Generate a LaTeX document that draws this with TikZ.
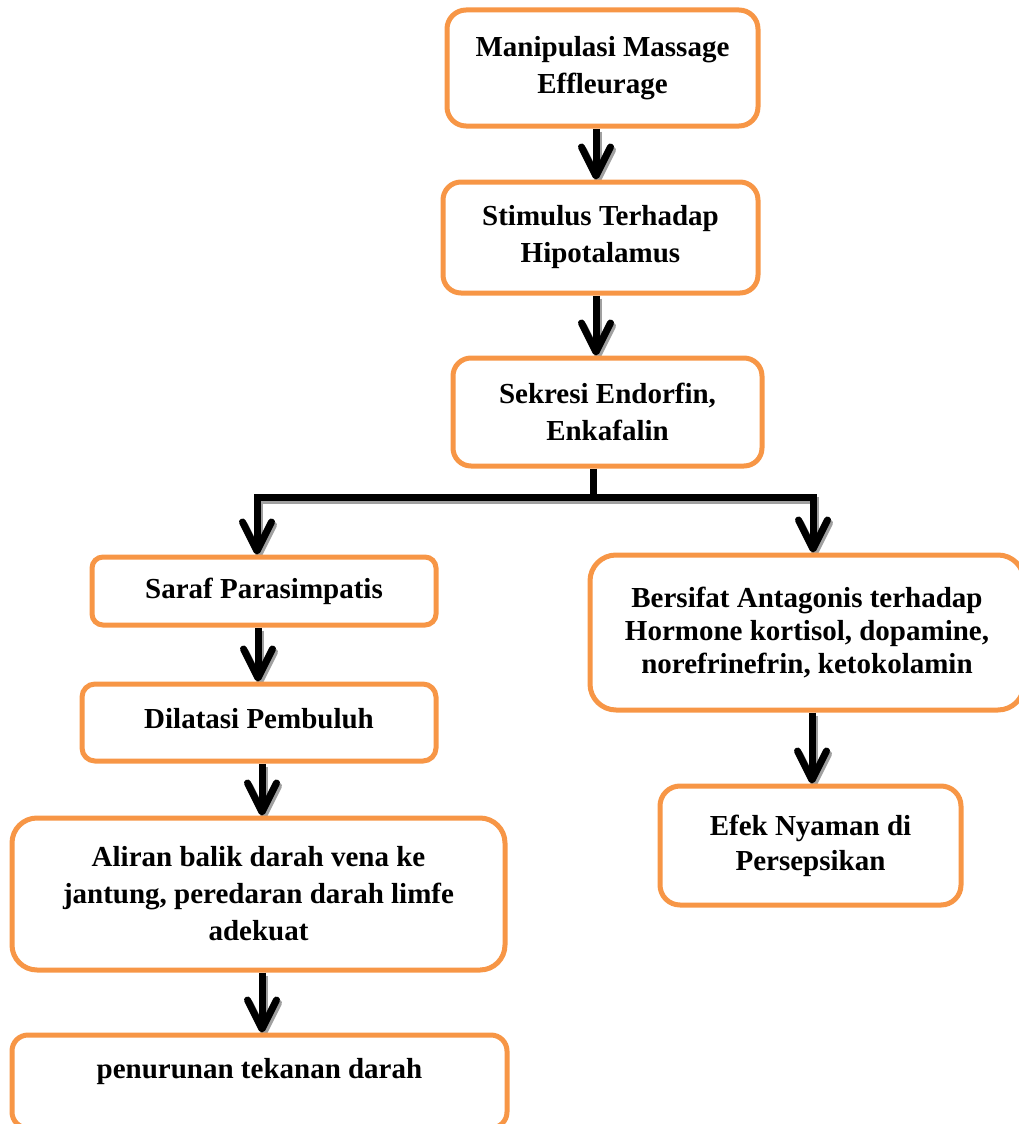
\documentclass[tikz,border=0pt]{standalone}
\usepackage{fontspec}
\setmainfont{Liberation Serif}
\usetikzlibrary{arrows.meta}
\definecolor{boxorange}{HTML}{F79646}
\definecolor{shadowgray}{HTML}{A0A0A0}
\pgfdeclarelayer{bg}
\pgfsetlayers{bg,main}
\newcommand\drawconns[1]{%
  \draw[arr,#1] (b1.south -| xT) -- (b2.north -| xT);
  \draw[arr,#1] (b2.south -| xT) -- (b3.north -| xT);
  \draw[arr,#1] (jc) -- (jl) -- (jl |- saraf.north);
  \draw[arr,#1] (jc) -- (jr) -- (jr |- anta.north);
  \draw[arr,#1] (saraf.south -| xA) -- (dil.north -| xA);
  \draw[arr,#1] (dil.south -| xB) -- (ali.north -| xB);
  \draw[arr,#1] (ali.south -| xB) -- (pen.north -| xB);
  \draw[arr,#1] (anta.south -| xR) -- (efek.north -| xR);
}
\begin{document}
\begin{tikzpicture}[x=1pt,y=-1pt,
  flowbox/.style={draw=boxorange, line width=5pt, fill=white, align=center, inner sep=0pt,
     font=\bfseries\fontsize{29}{37}\selectfont},
  connline/.style={line width=7pt, draw=black},
  arr/.style={connline, -{Straight Barb[length=29pt,width=29pt,round]}},
]
\useasboundingbox (0,0) rectangle (1019,1124);
\clip (0,0) rectangle (1019,1124);

% boxes
\node[flowbox, minimum width=311pt, minimum height=116pt, rounded corners=19pt] (b1) at (602.5,68) {Manipulasi Massage\\Effleurage};
\node[flowbox, minimum width=315pt, minimum height=111pt, rounded corners=18pt] (b2) at (600.5,237.5) {Stimulus Terhadap\\Hipotalamus};
\node[flowbox, minimum width=309pt, minimum height=108pt, rounded corners=18pt] (b3) at (607.5,412) {Sekresi Endorfin,\\Enkafalin};
\node[flowbox, minimum width=344pt, minimum height=68pt, rounded corners=11pt] (saraf) at (264,591) {Saraf Parasimpatis};
\node[flowbox, minimum width=434pt, minimum height=155pt, rounded corners=26pt, font=\bfseries\fontsize{29}{33}\selectfont] (anta) at (807,632.5) {Bersifat Antagonis terhadap\\Hormone kortisol, dopamine,\\norefrinefrin, ketokolamin};
\node[flowbox, minimum width=354pt, minimum height=77pt, rounded corners=13pt, text depth=9pt] (dil) at (259,722.5) {Dilatasi Pembuluh};
\node[flowbox, minimum width=493pt, minimum height=152pt, rounded corners=25pt] (ali) at (258.5,894) {Aliran balik darah vena ke\\jantung, peredaran darah limfe\\adekuat};
\node[flowbox, minimum width=301pt, minimum height=119pt, rounded corners=20pt, font=\bfseries\fontsize{29}{35}\selectfont] (efek) at (810.5,845.5) {Efek Nyaman di\\Persepsikan};
\node[flowbox, minimum width=495pt, minimum height=93pt, rounded corners=16pt, text depth=27pt] (pen) at (259.5,1081.5) {penurunan tekanan darah};

% connector positions
\coordinate (xT) at (596,0);
\coordinate (jc) at (593,497);
\coordinate (jl) at (257,497);
\coordinate (jr) at (813,497);
\coordinate (xA) at (258,0);
\coordinate (xB) at (262,0);
\coordinate (xR) at (812,0);

\begin{pgfonlayer}{bg}
\begin{scope}[transform canvas={shift={(2pt,-3pt)}}]
\drawconns{draw=shadowgray}
\end{scope}
\draw[connline] (b3.south -| jc) -- (jc);
\drawconns{}
\end{pgfonlayer}
\end{tikzpicture}
\end{document}
